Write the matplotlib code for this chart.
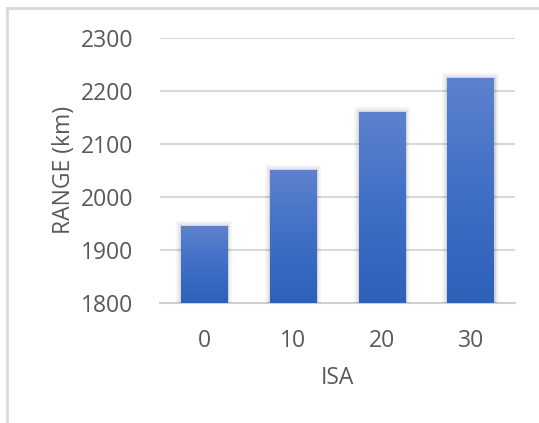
import matplotlib
matplotlib.use("Agg")
import matplotlib.pyplot as plt
import matplotlib.patheffects as pe
from matplotlib.lines import Line2D
from matplotlib.colors import LinearSegmentedColormap
import numpy as np

# ISA temperature deviation vs. range
isa_labels = ["0", "10", "20", "30"]
range_km = [1945, 2050, 2160, 2224]
y_ticks = [1800, 1900, 2000, 2100, 2200, 2300]

text_color = "#595959"
grid_color = "#d9d9d9"
font = "Open Sans"

fig = plt.figure(figsize=(5.39, 4.23), dpi=100)
ax = fig.add_axes([0.296, 0.2844, 0.6595, 0.6265])

x = np.arange(len(isa_labels))
bars = ax.bar(x, [v - y_ticks[0] for v in range_km], bottom=y_ticks[0],
              width=0.52, color="none", zorder=3)

# vertical gradient fill: lighter at top, deeper blue at bottom
cmap = LinearSegmentedColormap.from_list("bar_grad", ["#2e61bb", "#3f6fc6", "#5d82cd"])
grad = np.linspace(0, 1, 256).reshape(-1, 1)
for b in bars:
    x0, y0 = b.get_x(), b.get_y()
    w, h = b.get_width(), b.get_height()
    im = ax.imshow(grad, extent=[x0, x0 + w, y0, y0 + h], origin="lower",
                   cmap=cmap, aspect="auto", zorder=3, interpolation="bilinear")
    im.set_clip_path(b)
    # soft outer shadow around each bar
    b.set_path_effects([
        pe.Stroke(linewidth=7, foreground="#000000", alpha=0.04),
        pe.Stroke(linewidth=4, foreground="#000000", alpha=0.06),
        pe.Stroke(linewidth=2, foreground="#000000", alpha=0.08),
    ])

ax.set_xlim(-0.5, len(isa_labels) - 0.5)
ax.set_ylim(y_ticks[0], y_ticks[-1])
ax.set_yticks(y_ticks)
ax.set_xticks(x)
ax.set_xticklabels(isa_labels)
ax.yaxis.grid(True, color=grid_color, linewidth=1.5, zorder=0)
ax.set_axisbelow(True)
for side in ["top", "right", "left"]:
    ax.spines[side].set_visible(False)
ax.spines["bottom"].set_color("#d0d0d0")
ax.spines["bottom"].set_linewidth(1.5)
ax.tick_params(axis="both", length=0, labelsize=16.5, labelcolor=text_color)
ax.tick_params(axis="y", pad=19)
ax.tick_params(axis="x", pad=19)
for lbl in ax.get_xticklabels() + ax.get_yticklabels():
    lbl.set_fontfamily(font)

ax.set_xlabel("ISA", fontsize=16.5, color=text_color, fontfamily=font, labelpad=9)
ax.set_ylabel("RANGE (km)", fontsize=16.5, color=text_color, fontfamily=font, labelpad=3)

# chart frame (left and top edges)
fig.add_artist(Line2D([0.013, 0.013], [0.0, 0.981], transform=fig.transFigure,
                      color=grid_color, linewidth=2))
fig.add_artist(Line2D([0.013, 1.0], [0.981, 0.981], transform=fig.transFigure,
                      color=grid_color, linewidth=2))

fig.savefig("out.png", dpi=100, facecolor="white")
